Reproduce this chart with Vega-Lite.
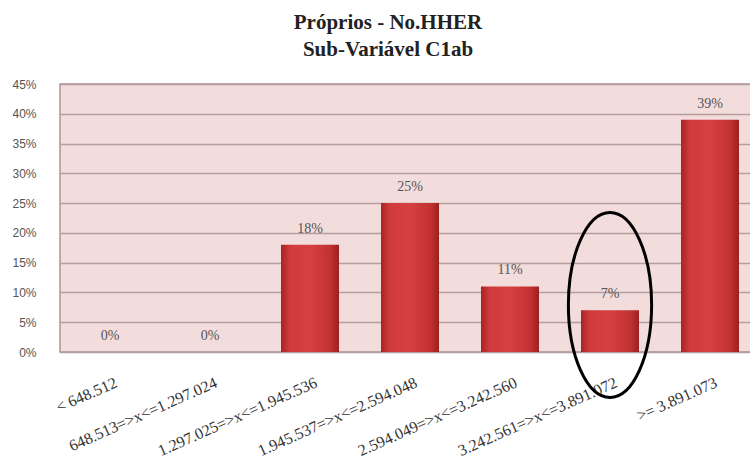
{
  "$schema": "https://vega.github.io/schema/vega-lite/v6.json",
  "autosize": {"type": "none"},
  "width": 700,
  "height": 268,
  "padding": {"left": 60, "top": 84, "right": 0, "bottom": 119},
  "background": "#ffffff",
  "title": {
    "text": ["Próprios - No.HHER", "Sub-Variável C1ab"],
    "font": "Liberation Serif",
    "fontSize": 21,
    "fontWeight": "bold",
    "color": "#222222",
    "anchor": "middle",
    "dx": -22,
    "offset": 18,
    "lineHeight": 27
  },
  "config": {
    "view": {"fill": "#f3dcdc", "stroke": "#a99595", "strokeWidth": 1.5},
    "axis": {"domain": false, "ticks": false}
  },
  "datasets": {
    "bars": [
      {"faixa": "< 648.512", "pct": 0, "label": "0%"},
      {"faixa": "648.513=>x<=1.297.024", "pct": 0, "label": "0%"},
      {"faixa": "1.297.025=>x<=1.945.536", "pct": 0.18, "label": "18%"},
      {"faixa": "1.945.537=>x<=2.594.048", "pct": 0.25, "label": "25%"},
      {"faixa": "2.594.049=>x<=3.242.560", "pct": 0.11, "label": "11%"},
      {"faixa": "3.242.561=>x<=3.891.072", "pct": 0.07, "label": "7%"},
      {"faixa": ">= 3.891.073", "pct": 0.39, "label": "39%"}
    ],
    "mark": [
      {"faixa": "3.242.561=>x<=3.891.072", "pct": 0.079}
    ]
  },
  "encoding": {
    "x": {
      "field": "faixa",
      "type": "nominal",
      "sort": null,
      "scale": {"paddingInner": 0.42, "paddingOuter": 0.21},
      "axis": {
        "title": null,
        "labelAngle": -24,
        "labelAlign": "right",
        "labelBaseline": "top",
        "labelPadding": 22,
        "labelOffset": 3,
        "labelFont": "Liberation Serif",
        "labelFontSize": 16,
        "labelColor": "#333333",
        "labelLimit": 0,
        "grid": false,
        "labelOverlap": false
      }
    },
    "y": {
      "field": "pct",
      "type": "quantitative",
      "scale": {"domain": [0, 0.45], "nice": false},
      "axis": {
        "title": null,
        "values": [0, 0.05, 0.1, 0.15, 0.2, 0.25, 0.3, 0.35, 0.4, 0.45],
        "format": ".0%",
        "labelFont": "Liberation Sans",
        "labelFontSize": 12,
        "labelColor": "#555555",
        "labelPadding": 24,
        "grid": true,
        "gridColor": "#b59d9d",
        "gridWidth": 1.5
      }
    }
  },
  "layer": [
    {
      "data": {"name": "bars"},
      "mark": {
        "type": "bar",
        "color": {
          "gradient": "linear",
          "x1": 0, "x2": 1, "y1": 0, "y2": 0,
          "stops": [
            {"offset": 0, "color": "#a82424"},
            {"offset": 0.15, "color": "#d03a3a"},
            {"offset": 0.5, "color": "#d64040"},
            {"offset": 0.85, "color": "#c23232"},
            {"offset": 1, "color": "#9c2020"}
          ]
        }
      }
    },
    {
      "data": {"name": "bars"},
      "mark": {
        "type": "text",
        "baseline": "bottom",
        "dy": -9,
        "font": "Liberation Serif",
        "fontSize": 14,
        "color": "#555555"
      },
      "encoding": {"text": {"field": "label"}}
    },
    {
      "data": {"name": "mark"},
      "mark": {
        "type": "point",
        "shape": "M 0,-1 C 0.248,-1 0.45,-0.552 0.45,0 C 0.45,0.552 0.248,1 0,1 C -0.248,1 -0.45,0.552 -0.45,0 C -0.45,-0.552 -0.248,-1 0,-1 Z",
        "size": 34225,
        "filled": false,
        "stroke": "#000000",
        "strokeWidth": 3,
        "opacity": 1
      }
    }
  ]
}
